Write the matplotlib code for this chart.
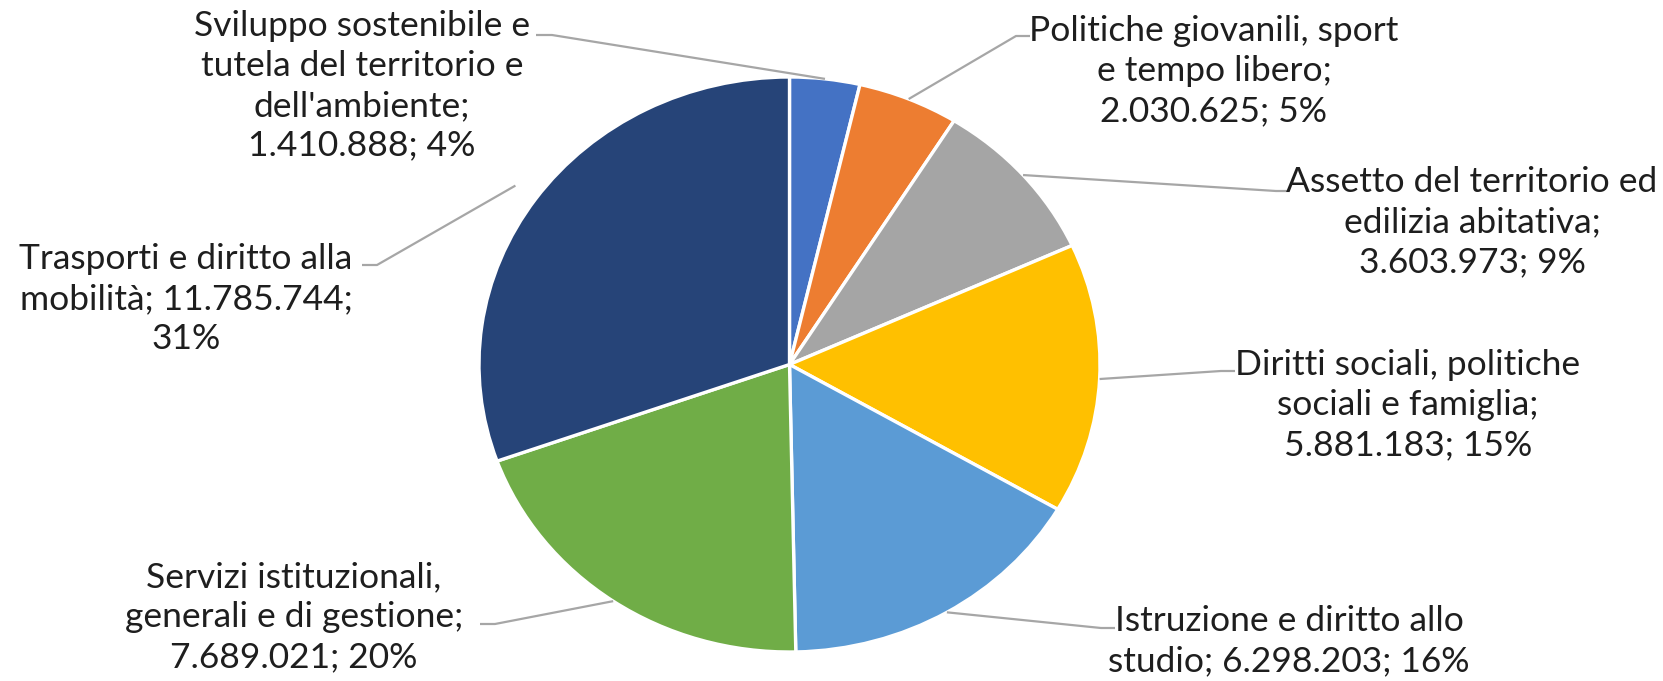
import numpy as np
import matplotlib
matplotlib.use('Agg')
import matplotlib.pyplot as plt

# Spesa per missione
categories = [
    "Sviluppo sostenibile e\ntutela del territorio e\ndell'ambiente;",
    "Politiche giovanili, sport\ne tempo libero;",
    "Assetto del territorio ed\nedilizia abitativa;",
    "Diritti sociali, politiche\nsociali e famiglia;",
    "Istruzione e diritto allo\nstudio;",
    "Servizi istituzionali,\ngenerali e di gestione;",
    "Trasporti e diritto alla\nmobilità;",
]
values = [1410888, 2030625, 3603973, 5881183, 6298203, 7689021, 11785744]
percents = [4, 5, 9, 15, 16, 20, 31]
colors = ['#4472C4', '#ED7D31', '#A5A5A5', '#FFC000', '#5B9BD5', '#70AD47', '#264478']

W, H = 1663, 681
# pie box in pixels (left, right, top, bottom)
PL, PR, PT, PB = 479, 1100, 77, 652
cx, cy = (PL + PR) / 2, (PT + PB) / 2
rx, ry = (PR - PL) / 2, (PB - PT) / 2


def to_data(px, py):
    return (px - cx) / rx, (cy - py) / ry


fig = plt.figure(figsize=(W / 100, H / 100), dpi=100)
ax = fig.add_axes([PL / W, (H - PB) / H, (PR - PL) / W, (PB - PT) / H])

wedges, _ = ax.pie(values, colors=colors, startangle=90, counterclock=False,
                   wedgeprops=dict(edgecolor='white', linewidth=2.4))
ax.set_aspect('auto')
ax.set_xlim(-1, 1)
ax.set_ylim(-1, 1)
ax.axis('off')


def fmt(v):
    return f"{v:,}".replace(',', '.')


# how the value part is appended to each category label
tails = ["\n{v}; {p}%", "\n{v}; {p}%", "\n{v}; {p}%", "\n{v}; {p}%",
         " {v}; {p}%", "\n{v}; {p}%", " {v};\n{p}%"]

# layout: label centre, leader elbow, leader start at text, radius of leader end (pixels)
layout = [
    ((362, 86), (552, 35), (536, 35), 1.0),
    ((1214, 71), (1016, 36), (1030, 36), 1.0),
    ((1472, 222), (1276, 191), (1290, 191), 1.0),
    ((1408, 405), (1221, 371), (1235, 371), 1.0),
    ((1289, 641), (1101, 628), (1115, 628), 1.0),
    ((294, 617), (495, 624), (480, 624), 1.0),
    ((186, 299), (377, 265), (362, 265), 1.08),
]

for w, cat, v, p, tail, (c, elbow, tstart, rend) in zip(
        wedges, categories, values, percents, tails, layout):
    txt = cat + tail.format(v=fmt(v), p=p)
    tx, ty = to_data(*c)
    ax.text(tx, ty, txt, ha='center', va='center', fontsize=25.5,
            family='Lato', color='#1e1e1e', linespacing=1.3, clip_on=False)
    mid = np.deg2rad((w.theta1 + w.theta2) / 2)
    ex, ey = rend * np.cos(mid), rend * np.sin(mid)
    bx, by = to_data(*elbow)
    sx, sy = to_data(*tstart)
    ax.plot([ex, bx, sx], [ey, by, sy], color='#A6A6A6', lw=1.6,
            clip_on=False, solid_capstyle='butt')

fig.savefig('out.png', dpi=100, facecolor='white')
